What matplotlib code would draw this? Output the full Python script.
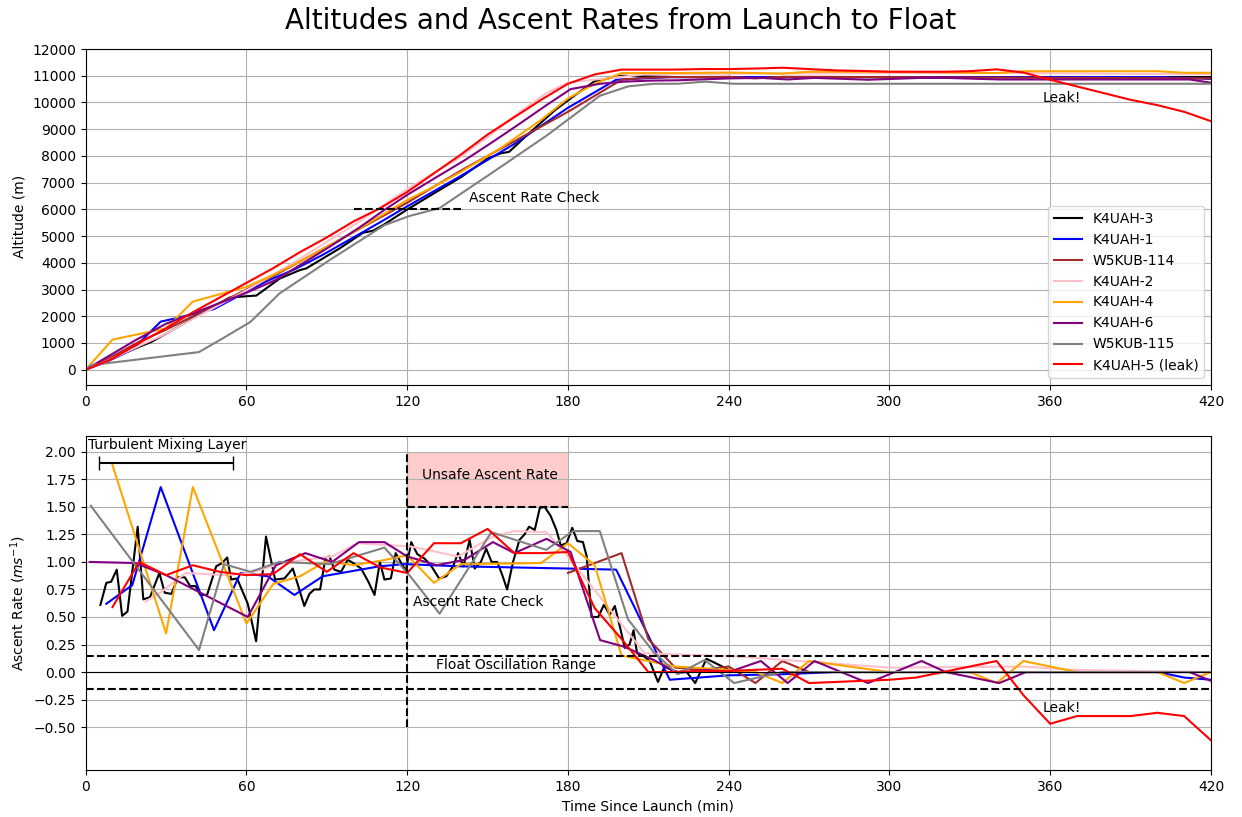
import numpy as np
import matplotlib
matplotlib.use('Agg')
import matplotlib.pyplot as plt

# ---- altitude data (min, m) ----
t_k3 = [0, 10, 24.5, 30, 47.5, 53.7, 60, 63.7, 72.4, 79.9, 82.3, 94.8, 103.5, 107.2, 111, 119.7,
        130, 140, 150, 155, 158, 165, 175, 183, 190, 200, 220, 420]
alt_k3 = [0, 450, 1040, 1350, 2350, 2700, 2750, 2775, 3410, 3725, 3790, 4540, 5125, 5200, 5410, 5975,
          6600, 7200, 7900, 8100, 8150, 8800, 9700, 10300, 10800, 11000, 10950, 10950]

t_k1 = [0, 7.7, 17.4, 28, 33, 47.9, 57.8, 67.9, 77.9, 88.5, 109.6, 118.9, 140, 160, 180, 198, 218,
        240, 400, 410, 420]
alt_k1 = [0, 290, 750, 1800, 1910, 2270, 2800, 3330, 3750, 4300, 5500, 6050, 7250, 8450, 9800, 10850,
          10950, 10950, 10950, 10920, 10880]

t_w114 = [0, 10, 20, 30, 40, 50, 60, 70, 80, 90, 100, 110, 120, 130, 140, 150, 160, 170, 180, 200,
          210, 220, 240, 250, 260, 270, 420]
alt_w114 = [0, 500, 1050, 1500, 2000, 2500, 3000, 3500, 4050, 4600, 5150, 5700, 6250, 6850, 7450,
            8000, 8550, 9100, 9650, 10850, 10930, 10950, 10960, 10900, 10960, 10960, 10900]

t_k2 = [0, 10, 22.3, 28.4, 37.3, 52.2, 61.6, 72, 82, 92, 101.5, 121.4, 139, 152, 160, 172, 180,
        208.6, 244, 300, 350, 420]
alt_k2 = [0, 420, 1000, 1270, 1750, 2550, 3060, 3670, 4280, 4910, 5500, 6850, 7900, 8850, 9500,
          10350, 10750, 11050, 11080, 11100, 11100, 11050]

t_k4 = [0, 10, 30, 40, 60, 70, 80, 90, 100, 110, 120, 130, 140, 155, 170, 180, 190, 200, 220, 240,
        260, 270, 300, 340, 350, 400, 410, 420]
alt_k4 = [0, 1125, 1550, 2550, 3100, 3550, 4050, 4600, 5150, 5750, 6350, 6850, 7400, 8300, 9350,
          10150, 10700, 11100, 11100, 11120, 11080, 11150, 11150, 11100, 11170, 11170, 11110, 11110]

t_k6 = [0, 1.5, 18.5, 30, 60.5, 71, 82, 92, 102, 111.5, 120, 131, 141.5, 152, 160, 172, 181, 192,
        201, 212, 221, 240, 252, 262, 272, 292, 312, 321, 341, 351, 412, 420]
alt_k6 = [0, 90, 1100, 1720, 2900, 3360, 4040, 4660, 5310, 5980, 6540, 7210, 7840, 8530, 9070, 9900,
          10500, 10700, 10780, 10820, 10830, 10900, 10920, 10860, 10920, 10850, 10920, 10920, 10860,
          10860, 10860, 10740]

t_w115 = [0, 1.9, 42.3, 51.6, 61.5, 72.3, 91, 111.5, 120.8, 132.1, 151.4, 171.9, 181.9, 191.9,
          202.4, 212, 221, 231, 242, 260, 420]
alt_w115 = [0, 170, 660, 1200, 1790, 2850, 4100, 5410, 5750, 6050, 7350, 8750, 9500, 10250, 10600,
            10700, 10700, 10780, 10700, 10700, 10700]

t_k5 = [0, 10, 20, 30, 40, 50, 60, 70, 80, 90, 100, 110, 120, 130, 140, 150, 160, 170, 180, 190,
        200, 210, 220, 230, 240, 250, 260, 270, 280, 290, 300, 310, 320, 330, 340, 350, 360, 370,
        380, 390, 400, 410, 420]
alt_k5 = [0, 410, 1000, 1550, 2150, 2700, 3250, 3800, 4400, 4950, 5550, 6050, 6650, 7350, 8050,
          8800, 9450, 10100, 10700, 11050, 11230, 11230, 11230, 11250, 11250, 11270, 11300, 11250,
          11200, 11180, 11150, 11150, 11150, 11170, 11240, 11120, 10850, 10600, 10350, 10100, 9900,
          9650, 9300]

# ---- ascent rate data (min, m/s) ----
rt_k3 = [5.5, 7.7, 9.5, 11.6, 13.6, 15.6, 19.4, 21.5, 24.0, 27.5, 29.5, 32.0, 34.4, 37.0, 39.0,
         41.0, 42.8, 45.3, 48.7, 50.9, 52.8, 54.3, 56.5, 60.5, 63.6, 67.3, 70.7, 74.2, 77.3, 79.1,
         81.6, 83.5, 85.3, 87.5, 89.5, 91.0, 92.8, 95.3, 97.8, 100.5, 102.8, 105.5, 107.8, 109.8,
         111.5, 113.9, 115.7, 118.0, 119.5, 121.5, 123.8, 126.5, 128.8, 131.9, 134.6, 137.1, 139.0,
         141.0, 143.3, 145.2, 147.5, 149.5, 151.5, 153.6, 155.5, 157.3, 159.5, 161.9, 163.8, 165.5,
         167.6, 169.5, 171.3, 173.5, 175.7, 177.3, 179.5, 181.6, 183.5, 185.6, 187.0, 188.8, 191.3,
         193.4, 195.6, 197.5, 199.5, 201.2, 203.0, 204.5, 205.8, 208.0, 210.5, 213.6, 216.1, 218.5,
         221.1, 224.0, 227.5, 231.7, 236.0, 240.0]
rate_k3 = [0.61, 0.81, 0.82, 0.93, 0.51, 0.55, 1.32, 0.66, 0.68, 0.90, 0.72, 0.71, 0.86, 0.86, 0.78,
           0.78, 0.70, 0.70, 0.96, 0.99, 1.04, 0.84, 0.85, 0.62, 0.28, 1.23, 0.84, 0.85, 0.94, 0.80,
           0.60, 0.71, 0.75, 0.75, 1.04, 1.05, 0.93, 0.91, 1.02, 0.98, 0.94, 0.82, 0.70, 1.00,
           0.84, 0.85, 1.08, 0.98, 0.92, 1.18, 1.07, 1.03, 0.97, 0.85, 0.87, 0.96, 1.08,
           0.96, 1.20, 0.94, 1.00, 1.12, 1.00, 1.00, 0.88, 0.75, 1.00, 1.20, 1.25, 1.32,
           1.29, 1.49, 1.50, 1.42, 1.29, 1.15, 1.17, 1.31, 1.19, 1.18, 1.05, 0.50, 0.50,
           0.61, 0.52, 0.60, 0.40, 0.22, 0.25, 0.38, 0.17, 0.15, 0.10, -0.09, 0.05, 0.02,
           0.00, 0.01, -0.10, 0.12, 0.07, 0.02]

rt_k1 = [7.7, 17.4, 28, 47.9, 57.8, 67.9, 77.9, 88.5, 109.6, 118.9, 140, 160, 180, 198, 218, 240,
         260, 280, 300, 340, 380, 400, 410, 420]
rate_k1 = [0.62, 0.79, 1.68, 0.38, 0.90, 0.87, 0.70, 0.87, 0.96, 0.98, 0.96, 0.95, 0.94, 0.93, -0.07,
           -0.03, -0.02, 0.0, 0.0, 0.0, 0.0, 0.0, -0.05, -0.07]

rt_w114 = [180, 200, 210, 220, 230, 240, 250, 260, 270, 420]
rate_w114 = [0.90, 1.08, 0.30, 0.04, 0.02, 0.05, -0.10, 0.10, 0.0, 0.0]

rt_k2 = [22.3, 28.4, 37.3, 52.2, 61.6, 72, 82, 92, 101.5, 121.4, 139, 152, 160, 172, 180, 208.6,
         244, 300, 350, 368, 420]
rate_k2 = [0.64, 0.73, 0.90, 0.88, 0.90, 0.98, 1.02, 1.05, 1.17, 1.14, 1.05, 1.23, 1.28, 1.27, 1.05,
           0.17, 0.14, 0.04, 0.05, 0.02, 0.0]

rt_k4 = [10, 30, 40, 60, 70, 80, 90, 100, 110, 120, 130, 140, 170, 180, 190, 200, 220, 240, 250,
         260, 270, 300, 330, 340, 350, 370, 400, 410, 420]
rate_k4 = [1.88, 0.35, 1.68, 0.44, 0.80, 0.87, 1.01, 0.97, 1.01, 1.06, 0.81, 0.98, 0.99, 1.17, 0.97,
           0.15, 0.05, 0.02, 0.0, -0.10, 0.10, 0.0, 0.0, -0.10, 0.10, 0.0, 0.0, -0.10, 0.0]

rt_k6 = [1.5, 18.5, 30, 60.5, 71, 82, 92, 102, 111.5, 120, 131, 141.5, 152, 160, 172, 181, 192, 201,
         212, 221, 231, 240, 252, 262, 272, 292, 312, 321, 341, 351, 400, 412, 420]
rate_k6 = [1.00, 0.99, 0.88, 0.50, 0.97, 1.08, 1.00, 1.18, 1.18, 1.05, 0.97, 1.02, 1.18, 1.08, 1.21,
           1.09, 0.29, 0.23, 0.11, -0.01, 0.02, 0.0, 0.10, -0.10, 0.10, -0.10, 0.10, 0.0, -0.10,
           0.0, 0.0, 0.0, -0.08]

rt_w115 = [1.9, 42.3, 51.6, 61.5, 72.3, 91, 111.5, 120.8, 132.1, 151.4, 171.9, 181.9, 191.9, 202.4,
           212, 221, 231, 242, 260, 420]
rate_w115 = [1.51, 0.20, 0.98, 0.91, 1.00, 0.98, 1.13, 0.88, 0.53, 1.27, 1.11, 1.28, 1.28, 0.48,
             0.18, -0.02, 0.11, -0.10, 0.0, 0.0]

rt_k5 = t_k5[1:]
rate_k5 = [0.59, 1.00, 0.88, 0.97, 0.91, 0.88, 0.89, 1.07, 0.91, 1.08, 0.95, 0.90, 1.17, 1.17, 1.30,
           1.08, 1.08, 1.09, 0.58, 0.30, 0.0, 0.0, 0.01, 0.01, 0.02, 0.03, -0.10, -0.09, -0.08,
           -0.07, -0.05, 0.0, 0.05, 0.10, -0.21, -0.47, -0.40, -0.40, -0.40, -0.37, -0.40, -0.62]

names = ['K4UAH-3', 'K4UAH-1', 'W5KUB-114', 'K4UAH-2', 'K4UAH-4', 'K4UAH-6', 'W5KUB-115',
         'K4UAH-5 (leak)']
colors = ['black', 'blue', 'brown', 'pink', 'orange', 'purple', 'gray', 'red']
alt_series = [(t_k3, alt_k3), (t_k1, alt_k1), (t_w114, alt_w114), (t_k2, alt_k2), (t_k4, alt_k4),
              (t_k6, alt_k6), (t_w115, alt_w115), (t_k5, alt_k5)]
rate_series = [(rt_k3, rate_k3), (rt_k1, rate_k1), (rt_w114, rate_w114), (rt_k2, rate_k2),
               (rt_k4, rate_k4), (rt_k6, rate_k6), (rt_w115, rate_w115), (rt_k5, rate_k5)]

fig = plt.figure(figsize=(12.42, 8.17), dpi=100)
ax1 = fig.add_axes([0.069, 0.529, 0.906, 0.411])
ax2 = fig.add_axes([0.069, 0.0575, 0.906, 0.409])
fig.suptitle('Altitudes and Ascent Rates from Launch to Float', fontsize=20, y=0.991)

# altitude plot
for (t, a), c, n in zip(alt_series, colors, names):
    ax1.plot(t, a, color=c, label=n, lw=1.5)
ax1.plot([100, 140], [6000, 6000], 'k--', lw=1.5)
ax1.text(143, 6150, 'Ascent Rate Check', fontsize=10, va='bottom')
ax1.text(357, 10150, 'Leak!', fontsize=10, va='center')
ax1.set_xlim(0, 420)
ax1.set_ylim(-565, 12000)
ax1.set_xticks(np.arange(0, 421, 60))
ax1.set_yticks(np.arange(0, 12001, 1000))
ax1.set_ylabel('Altitude (m)')
ax1.grid(True)
ax1.legend(loc='lower right')

# ascent rate plot
for (t, r), c, n in zip(rate_series, colors, names):
    ax2.plot(t, r, color=c, label=n, lw=1.5)
ax2.axhline(0, color='black', lw=0.8)
ax2.axhline(0.15, color='black', ls='--', lw=1.5)
ax2.axhline(-0.15, color='black', ls='--', lw=1.5)
ax2.fill_between([120, 180], 1.5, 2.0, color='red', alpha=0.2, lw=0)
ax2.plot([120, 180], [1.5, 1.5], 'k--', lw=1.5)
ax2.plot([120, 120], [-0.5, 2.0], 'k--', lw=1.5)
ax2.errorbar(30, 1.9, xerr=25, color='black', capsize=5, lw=1.5)
ax2.text(1, 2.0, 'Turbulent Mixing Layer', fontsize=10, va='bottom')
ax2.text(151, 1.79, 'Unsafe Ascent Rate', fontsize=10, ha='center', va='center')
ax2.text(122, 0.64, 'Ascent Rate Check', fontsize=10, va='center')
ax2.text(160.5, 0.06, 'Float Oscillation Range', fontsize=10, ha='center', va='center')
ax2.text(357, -0.33, 'Leak!', fontsize=10, va='center')
ax2.set_xlim(0, 420)
ax2.set_ylim(-0.89, 2.145)
ax2.set_xticks(np.arange(0, 421, 60))
ax2.set_yticks(np.arange(-0.5, 2.01, 0.25))
ax2.set_xlabel('Time Since Launch (min)')
ax2.set_ylabel('Ascent Rate ($ms^{-1}$)')
ax2.grid(True)

fig.savefig('out.png', dpi=100)
